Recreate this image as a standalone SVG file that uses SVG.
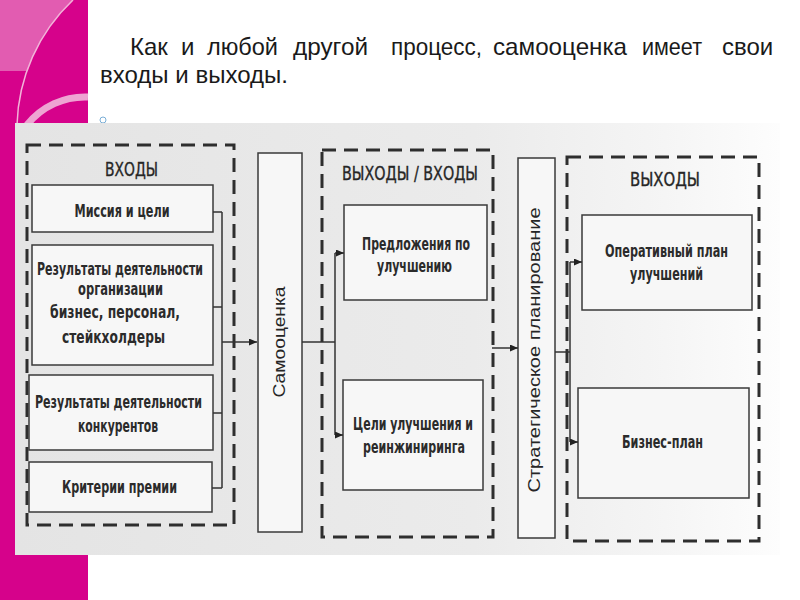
<svg xmlns="http://www.w3.org/2000/svg" width="800" height="600" viewBox="0 0 800 600">
<defs>
<style>
.title{font-family:"Liberation Sans",Arial,sans-serif;font-size:24px;fill:#1a1a1a}
.hdr{font-family:"Liberation Sans Narrow","DejaVu Sans Condensed","Liberation Sans",sans-serif;font-size:20px;fill:#262626;text-anchor:middle;stroke:#262626;stroke-width:0.35}
.lbl{font-family:"Liberation Sans Narrow","DejaVu Sans Condensed","Liberation Sans",sans-serif;font-size:17px;font-weight:bold;fill:#2b2b2b;text-anchor:middle}
.vt{font-family:"Liberation Sans",Arial,sans-serif;font-size:16px;fill:#262626;text-anchor:middle}
.dash{fill:none;stroke:#2e2e2e;stroke-width:3;stroke-dasharray:14 8}
.box{fill:#f7f7f7;stroke:#3a3a3a;stroke-width:1.5}
.conn{fill:none;stroke:#333;stroke-width:1.5}
.arr{fill:none;stroke:#333;stroke-width:1.5;marker-end:url(#ah)}
</style>
<marker id="ah" viewBox="0 0 8 7" refX="8" refY="3.5" markerWidth="8" markerHeight="7" markerUnits="userSpaceOnUse" orient="auto">
<path d="M0,0 L8,3.5 L0,7 Z" fill="#222"/>
</marker>
<linearGradient id="scan" x1="0" y1="0" x2="1" y2="0">
<stop offset="0" stop-color="#e4e4e4"/>
<stop offset="0.6" stop-color="#ebebeb"/>
<stop offset="0.85" stop-color="#f5f5f5"/>
<stop offset="1" stop-color="#fdfdfd"/>
</linearGradient>
</defs>

<g id="background">
<rect x="0" y="0" width="800" height="600" fill="#ffffff"/>
<rect x="0" y="0" width="88" height="600" fill="#d6028b"/>
<path d="M0,0 H73 A178 178 0 0 0 27,71 H0 Z" fill="#e25cb1"/>
<path d="M73,0 A178 178 0 0 0 17,125" fill="none" stroke="#f2b3d9" stroke-width="1.5"/>
<path d="M27,125 A74 74 0 0 1 88,97" fill="none" stroke="#eea4d2" stroke-width="7"/>
</g>

<g id="title">
<text class="title" x="130" y="55">Как</text>
<text class="title" x="181" y="55">и</text>
<text class="title" x="207" y="55" textLength="71" lengthAdjust="spacingAndGlyphs">любой</text>
<text class="title" x="293" y="55" textLength="75" lengthAdjust="spacingAndGlyphs">другой</text>
<text class="title" x="391" y="55" textLength="91" lengthAdjust="spacingAndGlyphs">процесс,</text>
<text class="title" x="493" y="55" textLength="134" lengthAdjust="spacingAndGlyphs">самооценка</text>
<text class="title" x="642" y="55" textLength="60" lengthAdjust="spacingAndGlyphs">имеет</text>
<text class="title" x="722" y="55">свои</text>
<text class="title" x="100" y="83" textLength="188" lengthAdjust="spacingAndGlyphs">входы и выходы.</text>
<circle cx="103" cy="120" r="3" fill="none" stroke="#7aaed6" stroke-width="1"/>
</g>

<rect id="scan-bg" x="15" y="123" width="765" height="432" fill="url(#scan)"/>

<g id="inputs">
<rect class="dash" x="27" y="145" width="207" height="380"/>
<text class="hdr" x="131.5" y="176" textLength="53" lengthAdjust="spacingAndGlyphs">ВХОДЫ</text>
</g>
<g id="mission">
<rect class="box" x="32" y="185" width="181" height="47"/>
<text class="lbl" x="122" y="217" textLength="95" lengthAdjust="spacingAndGlyphs">Миссия и цели</text>
</g>
<g id="org-results">
<rect class="box" x="32" y="245" width="181" height="120"/>
<text class="lbl" x="120" y="275" textLength="166" lengthAdjust="spacingAndGlyphs">Результаты деятельности</text>
<text class="lbl" x="120.5" y="295" textLength="85" lengthAdjust="spacingAndGlyphs">организации</text>
<text class="lbl" x="115" y="318" textLength="130" lengthAdjust="spacingAndGlyphs">бизнес, персонал,</text>
<text class="lbl" x="113.5" y="343" textLength="103" lengthAdjust="spacingAndGlyphs">стейкхолдеры</text>
</g>
<g id="competitors">
<rect class="box" x="29" y="375" width="184" height="75"/>
<text class="lbl" x="118.5" y="408" textLength="167" lengthAdjust="spacingAndGlyphs">Результаты деятельности</text>
<text class="lbl" x="118" y="432" textLength="80" lengthAdjust="spacingAndGlyphs">конкурентов</text>
</g>
<g id="award">
<rect class="box" x="29" y="462" width="183" height="50"/>
<text class="lbl" x="119.5" y="493" textLength="115" lengthAdjust="spacingAndGlyphs">Критерии премии</text>
</g>

<g id="self-assessment">
<rect class="box" x="258" y="153" width="44" height="379"/>
<text class="vt" transform="translate(285,342) rotate(-90)" textLength="111" lengthAdjust="spacingAndGlyphs">Самооценка</text>
</g>

<g id="outputs-inputs">
<rect class="dash" x="322" y="150" width="171" height="387"/>
<text class="hdr" x="410" y="180" textLength="136" lengthAdjust="spacingAndGlyphs">ВЫХОДЫ / ВХОДЫ</text>
</g>
<g id="proposals">
<rect class="box" x="344" y="205" width="143" height="95"/>
<text class="lbl" x="416" y="250" textLength="108" lengthAdjust="spacingAndGlyphs">Предложения по</text>
<text class="lbl" x="414.5" y="272" textLength="75" lengthAdjust="spacingAndGlyphs">улучшению</text>
</g>
<g id="goals">
<rect class="box" x="343" y="380" width="140" height="110"/>
<text class="lbl" x="413" y="430" textLength="120" lengthAdjust="spacingAndGlyphs">Цели улучшения и</text>
<text class="lbl" x="414" y="453" textLength="102" lengthAdjust="spacingAndGlyphs">реинжиниринга</text>
</g>

<g id="strategic-planning">
<rect class="box" x="518" y="158" width="37" height="380"/>
<text class="vt" transform="translate(540,350) rotate(-90)" textLength="285" lengthAdjust="spacingAndGlyphs">Стратегическое планирование</text>
</g>

<g id="outputs">
<rect class="dash" x="567" y="157" width="192" height="384"/>
<text class="hdr" x="665" y="186" textLength="70" lengthAdjust="spacingAndGlyphs">ВЫХОДЫ</text>
</g>
<g id="operative-plan">
<rect class="box" x="582" y="215" width="170" height="95"/>
<text class="lbl" x="666.5" y="257" textLength="123" lengthAdjust="spacingAndGlyphs">Оперативный план</text>
<text class="lbl" x="666.5" y="280" textLength="73" lengthAdjust="spacingAndGlyphs">улучшений</text>
</g>
<g id="business-plan">
<rect class="box" x="578" y="388" width="171" height="110"/>
<text class="lbl" x="662.5" y="448" textLength="81" lengthAdjust="spacingAndGlyphs">Бизнес-план</text>
</g>

<g id="connectors">
<path class="conn" d="M213,212 H222 M213,307 H222 M213,413 H222 M212,488 H222 M222,212 V488"/>
<path class="arr" d="M222,342 H257"/>
<path class="conn" d="M302,342 H335 M335,253 V435"/>
<path class="arr" d="M335,253 H344"/>
<path class="arr" d="M335,435 H343"/>
<path class="arr" d="M492,348 H518"/>
<path class="conn" d="M555,352 H570 M570,262 V442"/>
<path class="arr" d="M570,262 H582"/>
<path class="arr" d="M570,442 H578"/>
</g>
</svg>
